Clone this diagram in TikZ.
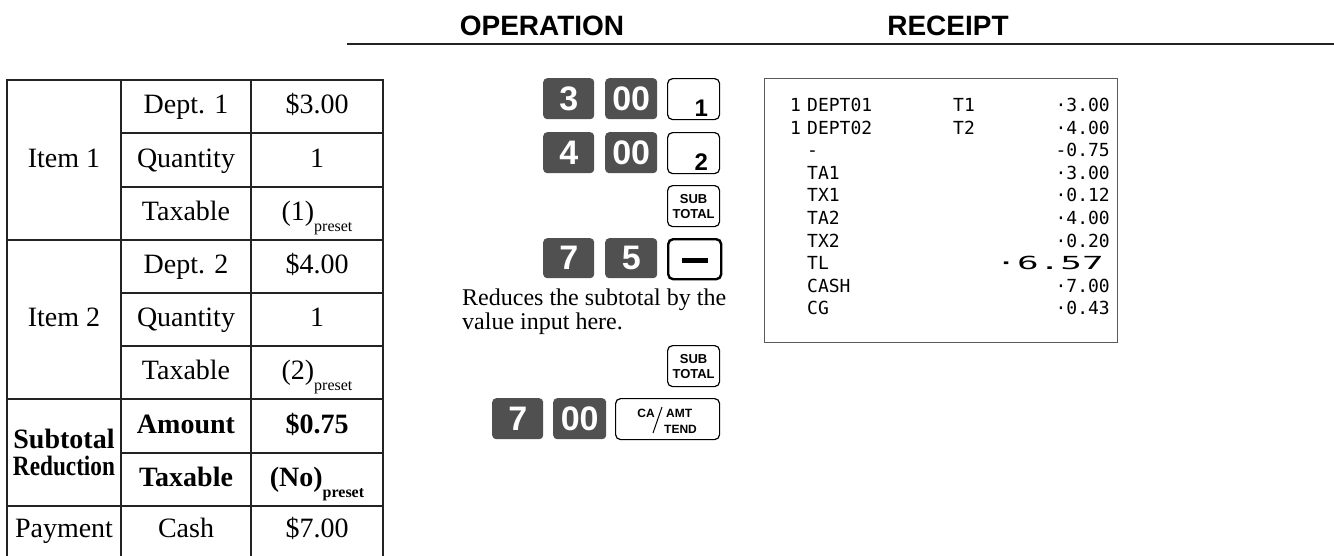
\documentclass[tikz,border=0pt]{standalone}
\usepackage{fontspec}
\usepackage{graphicx}
\setmainfont{Liberation Serif}
\newfontfamily\hvfont{Liberation Sans}
\newfontfamily\rcfont{DejaVu Sans Mono}
\definecolor{keygray}{RGB}{80,80,80}
\definecolor{rulecol}{RGB}{35,35,35}
\definecolor{rcgray}{RGB}{90,90,90}
\newcommand{\presetsub}{\raisebox{-11pt}{\fontsize{16}{16}\selectfont preset}}
\begin{document}
\begin{tikzpicture}[x=1pt,y=-1pt,
 cell/.style={anchor=base,inner sep=0pt,font=\fontsize{28}{30}\selectfont},
 bcell/.style={anchor=base,inner sep=0pt,font=\fontsize{28}{30}\selectfont\bfseries},
 hdr/.style={anchor=base,inner sep=0pt,font=\hvfont\bfseries\fontsize{28}{30}\selectfont},
 dkey/.style={anchor=north west,fill=keygray,rounded corners=4pt,inner sep=0pt,minimum width=51pt,minimum height=41pt,text=white,font=\hvfont\bfseries\fontsize{34}{34}\selectfont},
 wkey/.style={anchor=north west,draw=black,line width=1.2pt,rounded corners=5pt,inner sep=0pt,minimum height=41pt,minimum width=52pt,fill=white},
 deptlab/.style={anchor=base east,inner sep=0pt,font=\hvfont\bfseries\fontsize{24}{24}\selectfont},
 sublab/.style={font=\hvfont\bfseries\fontsize{13}{15}\selectfont,align=center},
 calab/.style={inner sep=0pt,font=\hvfont\bfseries\fontsize{12}{12}\selectfont},
 rtxt/.style={inner sep=0pt,font=\rcfont\fontsize{18}{20}\selectfont},
 gridline/.style={draw=rulecol,line width=1.3pt},
 frameline/.style={draw=rulecol,line width=2.4pt}
]
\path[use as bounding box] (0,0) rectangle (1334,555);

% ---------- header ----------
\node[hdr] (hop) at (542,35) {OPERATION};
\node[hdr] (hrc) at (948,35) {RECEIPT};
\draw[draw=rulecol,line width=1.6pt] (347,44) -- (1334,44);

% ---------- table ----------
\draw[frameline] (7,557) -- (7,80) -- (383,80) -- (383,557);
\draw[gridline] (121,80) -- (121,557);
\draw[gridline] (251,80) -- (251,557);
\foreach \yy in {240,399,506} \draw[gridline] (7,\yy) -- (383,\yy);
\foreach \yy in {133,187,293,346,453} \draw[gridline] (121,\yy) -- (383,\yy);

\node[cell] (i1) at (64,167) {Item 1};
\node[cell] (d1l) at (186,113.5) {Dept. 1};
\node[cell] (d1v) at (317,113.5) {\$3.00};
\node[cell] (q1l) at (186,167) {Quantity};
\node[cell] (q1v) at (317,167) {1};
\node[cell] (t1l) at (186,220.5) {Taxable};
\node[cell] (t1v) at (317,220.5) {(1)\presetsub};

\node[cell] (i2) at (64,326.5) {Item 2};
\node[cell] (d2l) at (186,273.5) {Dept. 2};
\node[cell] (d2v) at (317,273.5) {\$4.00};
\node[cell] (q2l) at (186,326.5) {Quantity};
\node[cell] (q2v) at (317,326.5) {1};
\node[cell] (t2l) at (186,379.5) {Taxable};
\node[cell] (t2v) at (317,379.5) {(2)\presetsub};

\node[bcell] (sr1) at (64,448) {Subtotal};
\node[bcell] (sr2) at (64,475) {\scalebox{0.83}[1]{Reduction}};
\node[bcell] (aml) at (186,433) {Amount};
\node[bcell] (amv) at (317,433) {\$0.75};
\node[bcell] (t3l) at (186,486.5) {Taxable};
\node[bcell] (t3v) at (317,486.5) {(No)\presetsub};

\node[cell] (pay) at (64,537) {Payment};
\node[cell] (payl) at (186,537) {Cash};
\node[cell] (payv) at (317,537) {\$7.00};

% ---------- operation keys ----------
\node[dkey] (k3) at (543,78) {3};
\node[dkey,minimum width=52pt] (k00a) at (605,78) {00};
\node[wkey] (kd1) at (667,78) {};
\node[deptlab] (kd1l) at ([xshift=-12pt,yshift=4pt]kd1.south east) {1};

\node[dkey] (k4) at (543,132) {4};
\node[dkey,minimum width=52pt] (k00b) at (605,132) {00};
\node[wkey] (kd2) at (667,132) {};
\node[deptlab] (kd2l) at ([xshift=-12pt,yshift=4pt]kd2.south east) {2};

\node[wkey,sublab] (ks1) at (667,185) {SUB\\TOTAL};

\node[dkey,minimum height=40pt] (k7) at (543,238) {7};
\node[dkey,minimum height=40pt,minimum width=52pt] (k5) at (605,238) {5};
\node[wkey,minimum height=40pt,minimum width=53pt,line width=2.4pt] (kmin) at (667,238) {};
\node[fill=black,inner sep=0pt,minimum width=26pt,minimum height=5pt] (kminbar) at ([yshift=-1pt]kmin.center) {};

\node[anchor=base west,inner sep=0pt,font=\fontsize{24}{24}\selectfont] (note1) at (462,305) {Reduces the subtotal by the};
\node[anchor=base west,inner sep=0pt,font=\fontsize{24}{24}\selectfont] (note2) at (462,329) {value input here.};

\node[wkey,sublab] (ks2) at (667,345) {SUB\\TOTAL};

\node[dkey] (k7b) at (492,398) {7};
\node[dkey,minimum width=53pt] (k00c) at (553,398) {00};
\node[wkey,minimum width=104pt] (kca) at (615,398) {};
\node[calab,anchor=base east] (kcaA) at (655,417) {CA};
\node[calab,anchor=base west] (kcaB) at (666,417) {AMT};
\node[calab,anchor=base west] (kcaC) at (664,433) {TEND};
\draw[line width=1pt] (662,407) -- (653,433);

% ---------- receipt ----------
\node[draw=rcgray,line width=1.3pt,anchor=north west,minimum width=353pt,minimum height=264pt,inner sep=0pt] (rc) at (764,78) {};

\node[rtxt,anchor=base west] (r1a) at (790,111.5) {1};
\node[rtxt,anchor=base west] (r1b) at (807,111.5) {DEPT01};
\node[rtxt,anchor=base west] (r1c) at (953,111.5) {T1};
\node[rtxt,anchor=base east] (r1d) at (1110,111.5) {·3.00};

\node[rtxt,anchor=base west] (r2a) at (790,134.1) {1};
\node[rtxt,anchor=base west] (r2b) at (807,134.1) {DEPT02};
\node[rtxt,anchor=base west] (r2c) at (953,134.1) {T2};
\node[rtxt,anchor=base east] (r2d) at (1110,134.1) {·4.00};

\node[rtxt,anchor=base west] (r3a) at (807,156.7) {-};
\node[rtxt,anchor=base east] (r3d) at (1110,156.7) {-0.75};

\node[rtxt,anchor=base west] (r4a) at (807,179.3) {TA1};
\node[rtxt,anchor=base east] (r4d) at (1110,179.3) {·3.00};

\node[rtxt,anchor=base west] (r5a) at (807,201.9) {TX1};
\node[rtxt,anchor=base east] (r5d) at (1110,201.9) {·0.12};

\node[rtxt,anchor=base west] (r6a) at (807,224.5) {TA2};
\node[rtxt,anchor=base east] (r6d) at (1110,224.5) {·4.00};

\node[rtxt,anchor=base west] (r7a) at (807,247.1) {TX2};
\node[rtxt,anchor=base east] (r7d) at (1110,247.1) {·0.20};

\node[rtxt,anchor=base west] (r8a) at (807,269.7) {TL};
\node[rtxt,anchor=base east] (r8d) at (1104,269.7) {\scalebox{2}[1]{·6.57}};

\node[rtxt,anchor=base west] (r9a) at (807,292.3) {CASH};
\node[rtxt,anchor=base east] (r9d) at (1110,292.3) {·7.00};

\node[rtxt,anchor=base west] (r10a) at (807,314.9) {CG};
\node[rtxt,anchor=base east] (r10d) at (1110,314.9) {·0.43};
\end{tikzpicture}
\end{document}
